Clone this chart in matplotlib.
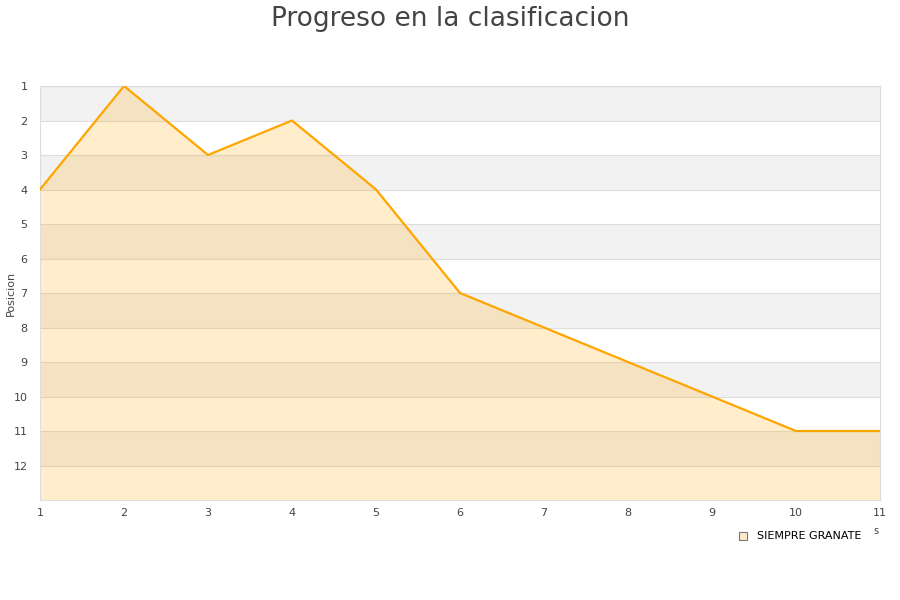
import matplotlib
matplotlib.use('Agg')
import matplotlib.pyplot as plt

# jornada vs posicion
jornadas = [1, 2, 3, 4, 5, 6, 7, 8, 9, 10, 11]
posicion = [4, 1, 3, 2, 4, 7, 8, 9, 10, 11, 11]
equipo = 'SIEMPRE GRANATE'
n_pos = 12

plt.rcParams['font.family'] = 'DejaVu Sans'

fig = plt.figure(figsize=(9, 6), dpi=100)
ax = fig.add_axes([40/900, 1-500/600, 840/900, 414/600])

# alternating bands
for p in range(1, n_pos + 1):
    if p % 2 == 1:
        ax.axhspan(p, p + 1, color='#f2f2f2', lw=0, zorder=0)
    ax.axhline(p, color='#dddddd', lw=0.8, zorder=1)

ax.fill_between(jornadas, posicion, n_pos + 1, color='orange', alpha=0.2, lw=0, zorder=2)
ax.plot(jornadas, posicion, color='orange', lw=1.6, zorder=3)

ax.set_xlim(1, 11)
ax.set_ylim(n_pos + 1, 1)
ax.set_xticks(jornadas)
ax.set_yticks(range(1, n_pos + 1))
ax.tick_params(length=0, labelsize=8, colors='#444444', pad=6)
ax.tick_params(axis='y', pad=9)
for s in ax.spines.values():
    s.set_color('#dddddd')

fig.text(11/900, 1-293/600, 'Posicion', fontsize=8, color='#444444',
         rotation=90, ha='center', va='center')
fig.text(0.5, 1-26/600, 'Progreso en la clasificacion', ha='center', va='baseline',
         fontsize=19, color='#444444')

# legend
fig.patches.append(plt.Rectangle((739/900, 1-540/600), 8/900, 8/600,
                                 transform=fig.transFigure, facecolor='#ffebc9',
                                 edgecolor='#777777', lw=0.8))
fig.text(757/900, 1-536/600, equipo, fontsize=8, va='center', color='black')
fig.text(873/900, 1-531/600, 's', fontsize=7, va='center', color='#444444')

fig.savefig('out.png', dpi=100)
